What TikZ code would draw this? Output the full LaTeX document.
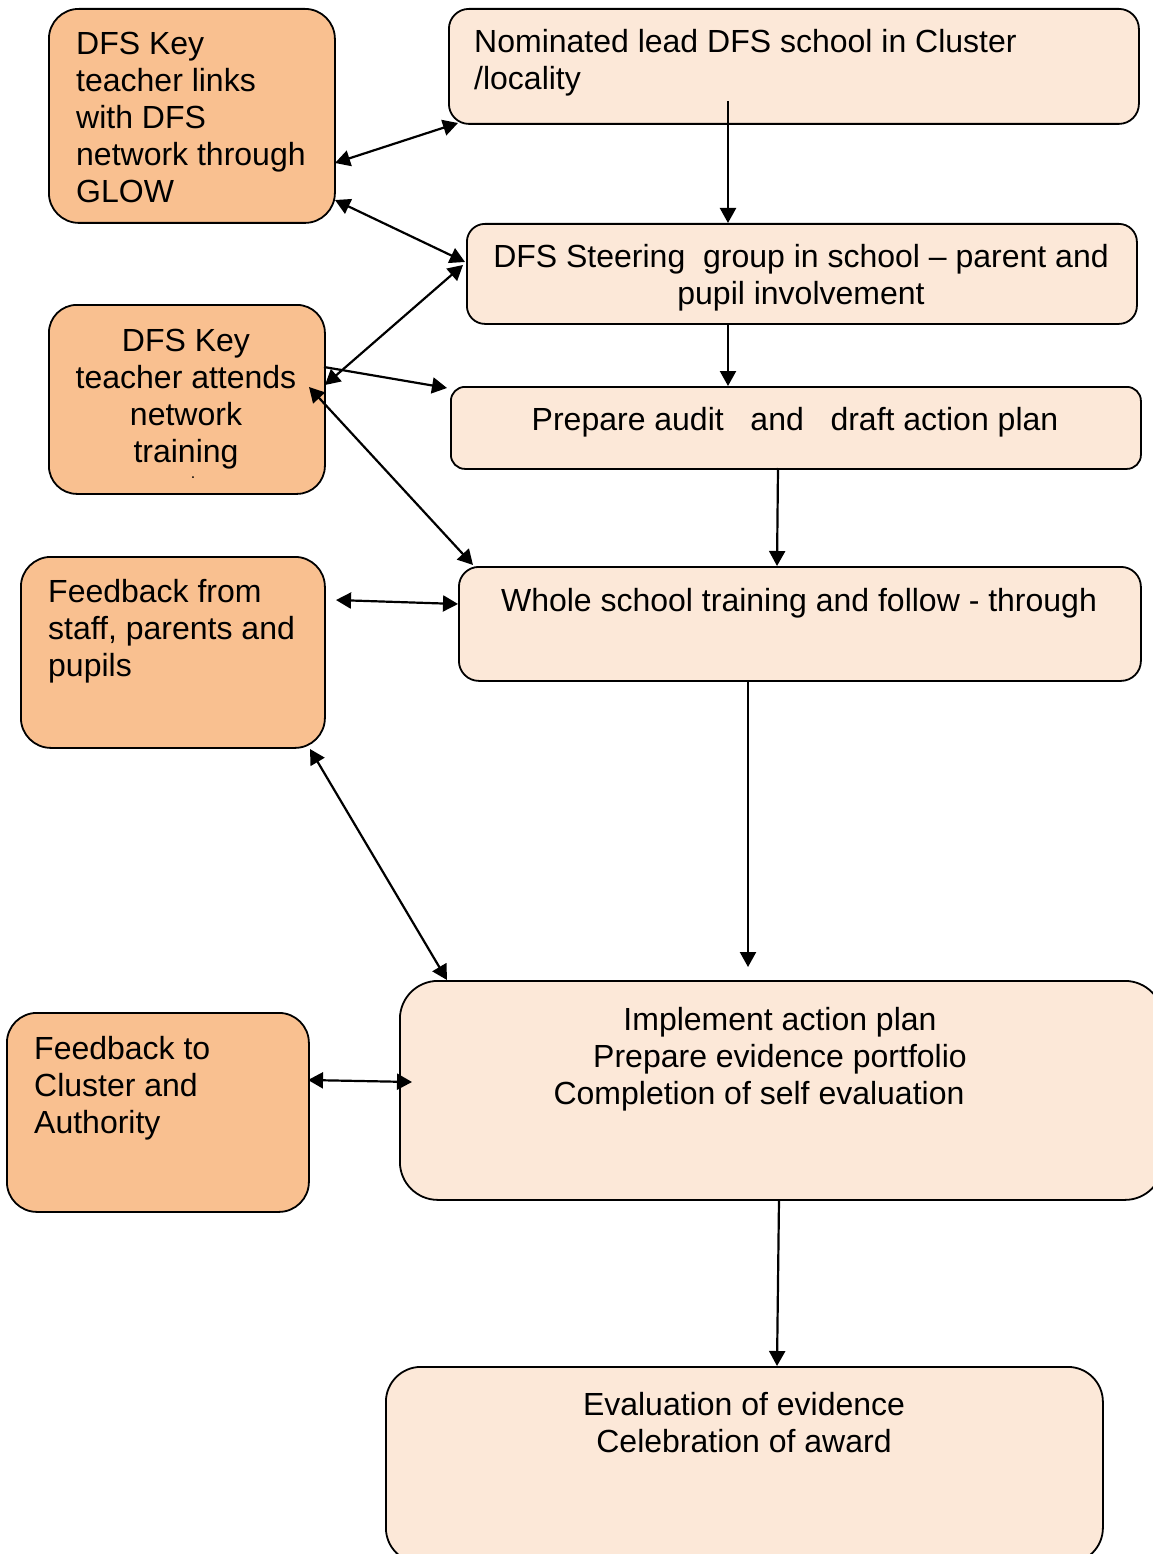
\documentclass[tikz,border=0pt]{standalone}
\usepackage{fontspec}
\setmainfont{Liberation Sans}
\usetikzlibrary{arrows.meta,calc}
\definecolor{orng}{RGB}{249,192,144}
\definecolor{pale}{RGB}{252,232,216}
\begin{document}
\begin{tikzpicture}[x=1pt,y=1pt,
  box/.style={draw=black, line width=1.8pt, rounded corners=#1, inner sep=0pt, anchor=north west},
  obox/.style={box=#1, fill=orng},
  pbox/.style={box=#1, fill=pale},
  txt/.style={inner sep=0pt, font=\fontsize{32}{37}\selectfont},
  conn/.style={line width=2.2pt, -{Triangle[length=15pt,width=16pt]}},
  bconn/.style={line width=2.2pt, {Triangle[length=15pt,width=16pt]}-{Triangle[length=15pt,width=16pt]}}]
\useasboundingbox (0,0) rectangle (1152,-1554);
% boxes
\node[obox=30pt, minimum width=286pt, minimum height=214pt] (a) at (48,-8) {};
\node[pbox=20pt, minimum width=690pt, minimum height=115pt] (b) at (448,-8) {};
\node[pbox=18pt, minimum width=670pt, minimum height=100pt] (c) at (466,-223) {};
\node[obox=28pt, minimum width=276pt, minimum height=189pt] (d) at (48,-304) {};
\node[pbox=14pt, minimum width=690pt, minimum height=82pt] (e) at (450,-386) {};
\node[obox=30pt, minimum width=304pt, minimum height=191pt] (f) at (20,-556) {};
\node[pbox=20pt, minimum width=682pt, minimum height=114pt] (g) at (458,-566) {};
\node[pbox=38pt, minimum width=763pt, minimum height=219pt] (h) at (399,-980) {};
\node[obox=30pt, minimum width=302pt, minimum height=199pt] (i) at (6,-1012) {};
\node[pbox=35pt, minimum width=717pt, minimum height=196pt] (j) at (385,-1366) {};
% texts
\node[txt, anchor=base west] (at) at (76,-55) {\parbox[t]{250pt}{\raggedright DFS Key\\teacher links\\with DFS\\network through\\GLOW}};
\node[txt, anchor=base west] (bt) at (474,-53) {\parbox[t]{620pt}{\raggedright Nominated lead DFS school in Cluster\\/locality}};
\node[txt, anchor=base] (ct) at (801,-267) {\parbox[t]{660pt}{\centering DFS Steering\ \ group in school – parent and\\pupil involvement}};
\node[txt, anchor=base] (dt) at (186,-351) {\parbox[t]{270pt}{\centering DFS Key\\teacher attends\\network\\training}};
\node[inner sep=0pt, font=\fontsize{16}{16}\selectfont, anchor=base] (dot) at (193,-478) {.};
\node[txt, anchor=base] (et) at (795,-430) {Prepare audit\ \ \ and\ \ \ draft action plan};
\node[txt, anchor=base] (gt) at (799,-611) {Whole school training and follow - through};
\node[txt, anchor=base west] (ft) at (48,-602) {\parbox[t]{290pt}{\raggedright Feedback from\\staff, parents and\\pupils}};
\node[txt, anchor=base west] (it) at (34,-1059) {\parbox[t]{270pt}{\raggedright Feedback to\\Cluster and\\Authority}};
\node[txt, anchor=base] (ht) at (780,-1030) {\parbox[t]{700pt}{\centering Implement action plan\\Prepare evidence portfolio\\Completion of self evaluation\hspace*{42pt}}};
\node[txt, anchor=base] (jt) at (744,-1415) {\parbox[t]{660pt}{\centering Evaluation of evidence\\Celebration of award}};
% connectors
\draw[bconn] ($(a.north west)+(287,-155)$) -- ($(b.north west)+(10,-115)$);
\draw[bconn] ($(a.north west)+(287,-192)$) -- ($(c.north west)+(-1,-39)$);
\draw[bconn] ($(d.north west)+(277,-81)$) -- ($(c.north west)+(-3,-42)$);
\draw[conn] ($(d.north west)+(276,-63)$) -- ($(e.north west)+(-3,-2)$);
\draw[bconn] ($(d.north west)+(261,-83)$) -- ($(g.north west)+(15,1)$);
\draw[conn] ($(b.north west)+(280,-93)$) -- ($(c.north west)+(262,0)$);
\draw[conn] ($(c.north west)+(262,-100)$) -- ($(e.north west)+(278,0)$);
\draw[conn] ($(e.north west)+(328,-82)$) -- ($(g.north west)+(319,0)$);
\draw[bconn] ($(f.north west)+(316,-44)$) -- ($(g.north west)+(0,-38)$);
\draw[bconn] ($(f.north west)+(290,-193)$) -- ($(h.north west)+(48,0)$);
\draw[conn] ($(g.north west)+(290,-114)$) -- ($(h.north west)+(349,13)$);
\draw[bconn] ($(i.north west)+(302,-68)$) -- ($(h.north west)+(13,-102)$);
\draw[conn] ($(h.north west)+(380,-219)$) -- ($(j.north west)+(392,0)$);
\end{tikzpicture}
\end{document}
